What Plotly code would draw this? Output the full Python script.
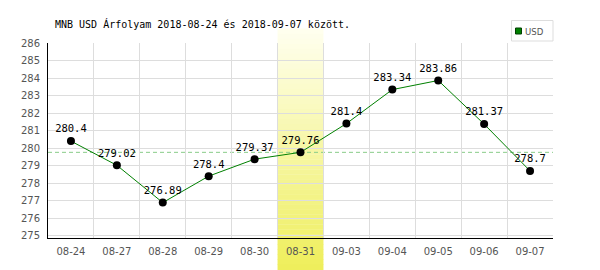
import plotly.graph_objects as go

dates = ["08-24", "08-27", "08-28", "08-29", "08-30", "08-31",
         "09-03", "09-04", "09-05", "09-06", "09-07"]
values = [280.4, 279.02, 276.89, 278.4, 279.37, 279.76,
          281.4, 283.34, 283.86, 281.37, 278.7]
value_labels = ["280.4", "279.02", "276.89", "278.4", "279.37", "279.76",
                "281.4", "283.34", "283.86", "281.37", "278.7"]
highlight_date = "08-31"
series_name = "USD"
title_text = "MNB USD Árfolyam 2018-08-24 és 2018-09-07 között."
y_min, y_max = 274.87, 286

W, H = 600, 270
L, R, T, B = 48, 47, 43, 32
PW, PH = W - L - R, H - T - B

def px_x(px):
    return (px - L) / PW

def px_y(py):
    return (H - B - py) / PH

hi = dates.index(highlight_date)
ref_value = values[hi]

fig = go.Figure()
fig.add_trace(go.Scatter(
    x=dates, y=values, mode="lines+markers+text",
    text=value_labels, textposition="top center",
    textfont=dict(family="DejaVu Sans Mono", size=10.5, color="#000000"),
    line=dict(color="#008000", width=1),
    marker=dict(color="#000000", size=8),
    cliponaxis=False, showlegend=False, hoverinfo="skip"))

shapes = []
# gradient highlight column made of slices
n = 48
top_px, bot_px = 29, H
c_top = (255, 255, 240)
c_bot = (238, 238, 90)
for i in range(n):
    y0p = top_px + (bot_px - top_px) * i / n
    y1p = top_px + (bot_px - top_px) * (i + 1) / n
    t = (i + 0.5) / n
    col = tuple(round(c_top[k] + (c_bot[k] - c_top[k]) * t) for k in range(3))
    shapes.append(dict(type="rect", xref="x", yref="paper",
                       x0=hi - 0.5, x1=hi + 0.5, y0=px_y(y1p), y1=px_y(y0p) + 0.002,
                       fillcolor="rgb(%d,%d,%d)" % col, line=dict(width=0),
                       layer="between"))
# reference dashed line
shapes.append(dict(type="line", xref="paper", yref="y", x0=0, x1=1,
                   y0=ref_value, y1=ref_value,
                   line=dict(color="#88cc88", width=1, dash="4px,3px"),
                   layer="between"))
# legend box
shapes.append(dict(type="rect", xref="paper", yref="paper",
                   x0=px_x(511.5), x1=px_x(553), y0=px_y(41), y1=px_y(20.5),
                   fillcolor="#ffffff", line=dict(color="#dddddd", width=1)))
shapes.append(dict(type="rect", xref="paper", yref="paper",
                   x0=px_x(515.5), x1=px_x(521.5), y0=px_y(34), y1=px_y(28),
                   fillcolor="#008000", line=dict(color="#004000", width=1)))

annotations = [
    dict(text=title_text, xref="paper", yref="paper", x=px_x(53), y=px_y(24),
         xanchor="left", yanchor="middle", showarrow=False,
         font=dict(family="DejaVu Sans Mono", size=10, color="#000000")),
    dict(text=series_name, xref="paper", yref="paper", x=px_x(523), y=px_y(31),
         xanchor="left", yanchor="middle", showarrow=False,
         font=dict(family="DejaVu Sans Condensed, DejaVu Sans", size=9.5, color="#555555")),
]

fig.update_layout(
    width=W, height=H, margin=dict(l=L, r=R, t=T, b=B, pad=0),
    paper_bgcolor="#ffffff", plot_bgcolor="#ffffff",
    shapes=shapes, annotations=annotations, showlegend=False,
    xaxis=dict(type="category", range=[-0.5, len(dates) - 0.5],
               tickson="boundaries", showgrid=True, gridcolor="#dddddd", gridwidth=1,
               showline=True, linecolor="#000000", linewidth=1,
               ticks="", tickfont=dict(family="DejaVu Sans", size=10, color="#555555"),
               ticklabelstandoff=4, fixedrange=True),
    yaxis=dict(range=[y_min, y_max], dtick=1, tick0=275,
               showgrid=True, gridcolor="#dddddd", gridwidth=1, zeroline=False,
               showline=True, linecolor="#000000", linewidth=1,
               ticks="", tickfont=dict(family="DejaVu Sans", size=10, color="#555555"),
               ticklabelstandoff=5, fixedrange=True),
)

fig.write_html("out.html")
